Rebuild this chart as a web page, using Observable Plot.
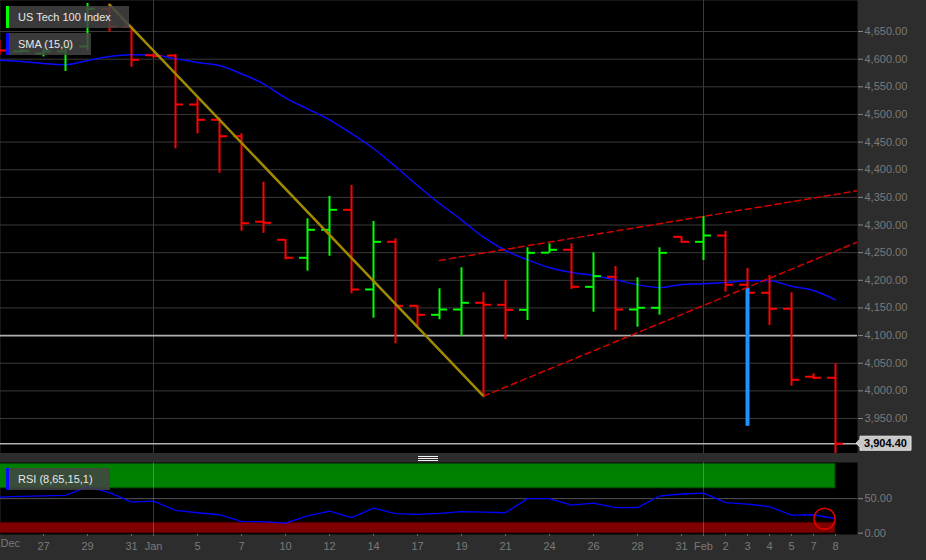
<!DOCTYPE html>
<html><head><meta charset="utf-8">
<script src="https://cdn.jsdelivr.net/npm/d3@7"></script>
<script src="https://cdn.jsdelivr.net/npm/@observablehq/plot@0.6"></script>
<style>
html,body{margin:0;padding:0;background:#2d2d2d;}
#wrap{position:relative;width:926px;height:560px;overflow:hidden;font-family:"Liberation Sans",Arial,sans-serif;}
.leg{position:absolute;left:6px;height:22px;background:rgba(68,68,68,0.86);color:#e8e8e8;font-size:11px;line-height:22px;padding-left:12px;box-sizing:border-box;white-space:nowrap}
.leg i{position:absolute;left:0;top:0;width:3px;height:100%}
#sep{position:relative;height:9px;background:#2d2d2d}
#sep b{position:absolute;left:418px;width:20px;height:1px;background:#f0f0f0}
</style></head>
<body><div id="wrap"></div>
<script>
// ---- data ----
const dates = ["Dec 23","Dec 24","Dec 27","Dec 28","Dec 29","Dec 30","Dec 31","Jan 3","Jan 4","Jan 5","Jan 6","Jan 7","Jan 8","Jan 10","Jan 11","Jan 12","Jan 13","Jan 14","Jan 15","Jan 17","Jan 18","Jan 19","Jan 20","Jan 21","Jan 22","Jan 24","Jan 25","Jan 26","Jan 27","Jan 28","Jan 29","Jan 31","Feb 1","Feb 2","Feb 3","Feb 4","Feb 5","Feb 7","Feb 8"];
const open  = [4628,4614,4610,4614,4623,4691,4659,4607,4606.6,4518,4490.3,4460.6,4306,4273.3,4240.7,4291.3,4327.5,4183.4,4269.6,4153.9,4137.6,4147.2,4159.3,4155.7,4146.6,4250,4255.2,4188.2,4206.3,4147.2,4150.3,4278.7,4269.6,4281,4191.9,4177.4,4148.5,4025.5,4023.7];
const high  = [4633.7,4617,4620,4626,4700.6,4698.8,4659,4609.6,4608.4,4528.3,4493.9,4465,4377.4,4273.3,4311.2,4351.6,4371.5,4306.4,4275.1,4153.9,4184.6,4222.6,4177.4,4199.6,4258.8,4266,4266,4249.7,4225,4204.5,4258.8,4278.7,4315.4,4288.3,4221.4,4208.7,4177.4,4030.9,4049];
const low   = [4606.6,4611,4604,4577.7,4615.6,4648.7,4585.4,4602,4437.8,4465,4393.7,4288.8,4285,4237,4216.5,4243.6,4175.6,4131.5,4085.1,4116.4,4128.6,4098.9,3990.4,4092.9,4127.3,4249,4183.4,4142.3,4109.2,4115.2,4136.9,4267.1,4235.8,4178.5,3936.1,4118.3,4008.5,4020.6,3880];
const close = [4615.6,4615,4614,4621,4691,4659,4598.8,4605.5,4518,4490.3,4460.6,4303.3,4304,4240.7,4291.3,4327.5,4183.4,4269.6,4153.9,4137.6,4147.2,4159.3,4155.7,4146.6,4249.7,4255.2,4188.2,4207.4,4147.2,4150.3,4249.7,4269.6,4281,4191.9,4177.4,4148.5,4020,4023.7,3904.4];
const sma15 = [4598.1,4595.7,4592.1,4589.8,4597.5,4604.8,4607.9,4607.5,4600.6,4593.9,4588.5,4573.5,4555.4,4530.1,4510.2,4490.3,4465.5,4438.4,4405.8,4371.5,4338.9,4309.4,4277.9,4253.9,4237.1,4222.6,4214.1,4208.7,4200.9,4191.9,4187,4192.4,4193.7,4196,4199.1,4199.1,4189.3,4181.6,4164.7];
const rsi = [52.3,53.2,54,54.8,67,58.7,45,46.5,33,29.6,26.7,17,16.6,14.5,25,32,22.4,36.3,28.2,27.2,28.6,31.1,30.5,29.6,50,50,40.7,43.6,36.9,36.9,53.8,56.7,58.1,44.2,42.2,38.4,26.2,26.7,20.9];
// highlighted (blue) segment of the Feb 3 bar
const highlightIdx = 34, highlightTop = 4185;
// drawn lines: [index, value] endpoints
const trendDown = [[5,4698.8],[22,3990.4]];
const channelUp = [[20,4236],[39,4362]];
const channelLow = [[22,3990.4],[39,4269.3]];
const hLevel = 4100;
const monthStarts = [7, 32];
const yTicks = [3950,4000,4050,4100,4150,4200,4250,4300,4350,4400,4450,4500,4550,4600,4650];
const rsiTicks = [0, 50];
const rsiOverbought = 65, rsiOversold = 15;
const tickIdx  = [2,4,6,7,9,11,13,15,17,19,21,23,25,27,29,31,32,33,34,35,36,37,38];
const tickText = ["27","29","31","Jan","5","7","10","12","14","17","19","21","24","26","28","31","Feb","2","3","4","5","7","8"];
const firstMonthLabel = "Dec";
const circleMark = {i: 37.5, v: 20.9};

// ---- build ----
const bars = dates.map((d,i)=>({i, date:d, o:open[i], h:high[i], l:low[i], c:close[i]}));
const smaData = sma15.map((v,i)=>({i, v}));
const rsiData = rsi.map((v,i)=>({i, v}));
const pts = a => a.map(([i,v])=>({i,v}));
const col = d => d.c >= d.o ? "#00ff00" : "#ff0000";
const xDomain = [1/22, dates.length];
const fontFam = "'Liberation Sans', Arial, sans-serif";
const tickMap = new Map(tickIdx.map((d,k)=>[d, tickText[k]]));
const last = close[close.length-1];

const main = Plot.plot({
  width: 926, height: 453,
  marginTop: 0, marginBottom: 0, marginLeft: 0, marginRight: 69,
  style: {background: "#2d2d2d", color: "#7a7a7a", fontFamily: fontFam, fontSize: "11px"},
  x: {type: "linear", domain: xDomain, axis: null},
  y: {type: "linear", domain: [3886.7, 4706.1]},
  marks: [
    Plot.frame({fill: "black", stroke: "none"}),
    Plot.ruleY(yTicks.filter(v => v !== hLevel), {stroke: "#3a3a3a"}),
    Plot.ruleX(monthStarts, {stroke: "#3a3a3a"}),
    Plot.ruleY([hLevel], {stroke: "#b0b0b0", strokeWidth: 1.6}),
    Plot.ruleY([last], {stroke: "#b0b0b0", strokeWidth: 1.6}),
    Plot.line(smaData, {x: "i", y: "v", stroke: "#0a0aff", strokeWidth: 1.5, curve: "monotone-x", clip: true}),
    Plot.ruleX(bars, {x: "i", y1: "l", y2: "h", stroke: col, strokeWidth: 2, clip: true}),
    Plot.ruleY(bars, {y: "o", x1: d => d.i - 0.36, x2: "i", stroke: col, strokeWidth: 2, clip: true}),
    Plot.ruleY(bars, {y: "c", x1: "i", x2: d => d.i + 0.36, stroke: col, strokeWidth: 2, clip: true}),
    Plot.ruleX([bars[highlightIdx]], {x: "i", y1: "l", y2: () => highlightTop, stroke: "#1e90ff", strokeWidth: 4, clip: true}),
    Plot.line(pts(trendDown), {x: "i", y: "v", stroke: "#a08a00", strokeWidth: 2.5, clip: true}),
    Plot.line(pts(channelUp), {x: "i", y: "v", stroke: "#d40000", strokeWidth: 1.5, strokeDasharray: "6,4", clip: true}),
    Plot.line(pts(channelLow), {x: "i", y: "v", stroke: "#d40000", strokeWidth: 1.5, strokeDasharray: "6,4", clip: true}),
    Plot.axisY(yTicks, {anchor: "right", label: null, tickSize: 5, tickPadding: 2, tickFormat: d3.format(",.2f"), stroke: "#8a8a8a", fill: "#7a7a7a", fontSize: 11})
  ]
});

// price label in the right axis
{
  const py = main.scale("y").apply(last);
  const g = d3.select(main).append("g");
  g.append("path")
    .attr("d", `M856,${py} L860,${py-4} L860,${py-7} L911,${py-7} L911,${py+7} L860,${py+7} L860,${py+4} Z`)
    .attr("fill", "#c8c8c8").attr("stroke", "#e6e6e6");
  g.append("text").attr("x", 885.5).attr("y", py).attr("dy", "0.36em")
    .attr("text-anchor", "middle").attr("font-weight", "bold").attr("font-size", "11px")
    .attr("font-family", fontFam).attr("fill", "#000").text(d3.format(",.2f")(last));
}

const rsiPlot = Plot.plot({
  width: 926, height: 98,
  marginTop: 0, marginBottom: 26, marginLeft: 0, marginRight: 69,
  style: {background: "#2d2d2d", color: "#7a7a7a", fontFamily: fontFam, fontSize: "11px"},
  x: {type: "linear", domain: xDomain},
  y: {type: "linear", domain: [-1.9, 102.3]},
  marks: [
    Plot.frame({fill: "black", stroke: "none"}),
    Plot.rect([{a: 0, b: dates.length - 1}], {x1: "a", x2: "b", y1: rsiOverbought, y2: 100, fill: "#008000", stroke: "#004f00", strokeWidth: 1, clip: true}),
    Plot.rect([{a: 0, b: dates.length - 1}], {x1: "a", x2: "b", y1: 0, y2: rsiOversold, fill: "#800000", stroke: "#4a0000", strokeWidth: 1, clip: true}),
    Plot.ruleY([50], {stroke: "#555"}),
    Plot.ruleX(monthStarts, {stroke: "#ffffff", strokeOpacity: 0.22}),
    Plot.line(rsiData, {x: "i", y: "v", stroke: "#0000ff", strokeWidth: 1.3, clip: true}),
    Plot.dot([circleMark], {x: "i", y: "v", r: 10.5, stroke: "#e00000", strokeWidth: 1.5, fill: "none"}),
    Plot.axisY(rsiTicks, {anchor: "right", label: null, tickSize: 5, tickPadding: 2, tickFormat: d3.format(".2f"), stroke: "#8a8a8a", fill: "#7a7a7a", fontSize: 11}),
    Plot.axisX(tickIdx, {label: null, tickSize: 2, tickPadding: 6, tickFormat: d => tickMap.get(d), stroke: "#666", fill: "#7a7a7a", fontSize: 11}),
    Plot.text([firstMonthLabel], {text: d => d, frameAnchor: "bottom-left", textAnchor: "start", dy: 12.7, fill: "#7a7a7a", fontSize: 11})
  ]
});

const wrap = document.getElementById("wrap");
wrap.appendChild(main);
const sep = document.createElement("div");
sep.id = "sep";
sep.innerHTML = '<b style="top:3px"></b><b style="top:5px"></b><b style="top:7px"></b>';
wrap.appendChild(sep);
wrap.appendChild(rsiPlot);

const legends = [
  {label: "US Tech 100 Index", color: "#00ff00", top: 6, width: 123},
  {label: "SMA (15,0)", color: "#0a0aff", top: 33, width: 85},
  {label: "RSI (8,65,15,1)", color: "#0a0aff", top: 468, width: 104}
];
for (const l of legends) {
  const d = document.createElement("div");
  d.className = "leg";
  d.style.top = l.top + "px";
  d.style.width = l.width + "px";
  d.innerHTML = `<i style="background:${l.color}"></i>`;
  d.appendChild(document.createTextNode(l.label));
  wrap.appendChild(d);
}
</script>
</body></html>
